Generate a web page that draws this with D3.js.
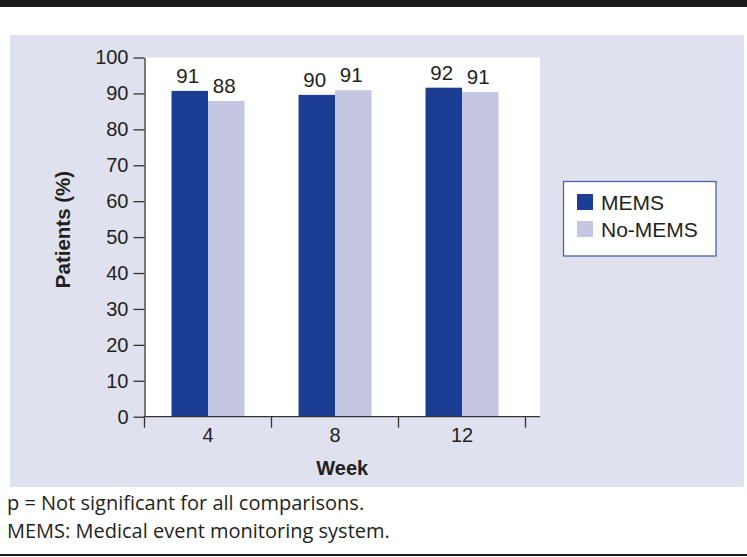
<!DOCTYPE html>
<html><head><meta charset="utf-8">
<script src="https://cdn.jsdelivr.net/npm/d3@7"></script>
<style>
html,body{margin:0;padding:0;background:#fff;}
svg{display:block;}
</style></head>
<body>
<script>
const weeks = ["4", "8", "12"];
const seriesNames = ["MEMS", "No-MEMS"];
const memsValues = [90.7, 89.6, 91.6];
const noMemsValues = [87.9, 90.9, 90.4];
const memsLabels = ["91", "90", "92"];
const noMemsLabels = ["88", "91", "91"];
const yTicks = [0, 10, 20, 30, 40, 50, 60, 70, 80, 90, 100];
const colors = ["#1b3d93", "#c5c6e1"];
const footnotes = ["p = Not significant for all comparisons.", "MEMS: Medical event monitoring system."];

const W = 747, H = 557;
const svg = d3.select("body").append("svg").attr("width", W).attr("height", H);

// top band and bottom rule
svg.append("rect").attr("x", 0).attr("y", 0).attr("width", W).attr("height", 7).attr("fill", "#1a1a1a");
svg.append("rect").attr("x", 0).attr("y", 554).attr("width", W).attr("height", 2).attr("fill", "#1a1a1a");

// panel
svg.append("rect").attr("x", 10).attr("y", 35).attr("width", 734).attr("height", 452).attr("fill", "#e0e1ef");

const plotL = 144.5, plotR = 540, plotT = 57.5, plotB = 416.7;
svg.append("rect").attr("x", plotL).attr("y", plotT).attr("width", plotR - plotL).attr("height", plotB - plotT).attr("fill", "#fff");

const y = d3.scaleLinear().domain([0, 100]).range([plotB, plotT]);
const x = d3.scaleBand().domain(weeks).range([plotL, 525.5]).padding(0);
const x1 = d3.scaleBand().domain(seriesNames).range([0, x.bandwidth()]).paddingInner(0).paddingOuter(0.74);

const data = weeks.map((w, i) => ({week: w, vals: [
  {s: seriesNames[0], v: memsValues[i], lab: memsLabels[i]},
  {s: seriesNames[1], v: noMemsValues[i], lab: noMemsLabels[i]}
]}));

const font = "'Liberation Sans', Arial, Helvetica, sans-serif";
const textCol = "#231f20";

const g = svg.append("g");
const groups = g.selectAll("g.grp").data(data).join("g").attr("class", "grp")
  .attr("transform", d => `translate(${x(d.week)},0)`);
groups.selectAll("rect").data(d => d.vals).join("rect")
  .attr("x", d => x1(d.s)).attr("width", x1.bandwidth())
  .attr("y", d => y(d.v)).attr("height", d => y(0) - y(d.v))
  .attr("fill", (d, i) => colors[i]);
groups.selectAll("text").data(d => d.vals).join("text")
  .attr("x", d => x1(d.s) + x1.bandwidth() / 2 - 2)
  .attr("y", d => y(d.v) - 8)
  .attr("text-anchor", "middle")
  .attr("font-family", font).attr("font-size", 20.5).attr("fill", textCol)
  .text(d => d.lab);

// y axis
const yAxis = svg.append("g").attr("transform", `translate(${plotL},0)`)
  .call(d3.axisLeft(y).tickValues(yTicks).tickSize(11).tickSizeOuter(0).tickPadding(5));
yAxis.selectAll("path,line").attr("stroke", "#333").attr("stroke-width", 1.3);
yAxis.selectAll("text").attr("font-family", font).attr("font-size", 20).attr("fill", textCol);

// x axis
const xAxis = svg.append("g").attr("transform", `translate(0,${plotB})`)
  .call(d3.axisBottom(x).tickSize(0).tickPadding(11));
xAxis.select("path.domain").remove();
xAxis.selectAll("text").attr("font-family", font).attr("font-size", 20).attr("fill", textCol);
svg.append("line").attr("x1", plotL).attr("x2", plotR).attr("y1", plotB).attr("y2", plotB)
  .attr("stroke", "#333").attr("stroke-width", 1.3);
const bounds = weeks.map(w => x(w)).concat([x.range()[1]]);
svg.selectAll("line.xb").data(bounds).join("line").attr("class", "xb")
  .attr("x1", d => d).attr("x2", d => d).attr("y1", plotB).attr("y2", plotB + 11)
  .attr("stroke", "#333").attr("stroke-width", 1.3);

// axis titles
svg.append("text").attr("x", (plotL + plotR) / 2).attr("y", 475).attr("text-anchor", "middle")
  .attr("font-family", font).attr("font-size", 20).attr("font-weight", "bold").attr("fill", textCol).text("Week");
svg.append("text").attr("transform", "translate(70,229.5) rotate(-90)").attr("text-anchor", "middle")
  .attr("font-family", font).attr("font-size", 20.5).attr("font-weight", "bold").attr("fill", textCol).text("Patients (%)");

// legend
const lg = svg.append("g");
lg.append("rect").attr("x", 563.5).attr("y", 181.5).attr("width", 152.5).attr("height", 74.5)
  .attr("fill", "#fff").attr("stroke", "#4f62a8").attr("stroke-width", 1.3);
const li = lg.selectAll("g.li").data(seriesNames).join("g").attr("class", "li")
  .attr("transform", (d, i) => `translate(577,${194 + i * 27})`);
li.append("rect").attr("width", 16).attr("height", 16).attr("fill", (d, i) => colors[i]);
li.append("text").attr("x", 24).attr("y", 16).attr("font-family", font).attr("font-size", 21)
  .attr("fill", textCol).text(d => d);

// footnotes
svg.selectAll("text.fn").data(footnotes).join("text").attr("class", "fn")
  .attr("x", 7).attr("y", (d, i) => 510 + i * 27.5)
  .attr("font-family", "'Open Sans', 'Noto Sans', sans-serif").attr("font-size", 20).attr("fill", "#231f20")
  .text(d => d);
</script>
</body></html>
